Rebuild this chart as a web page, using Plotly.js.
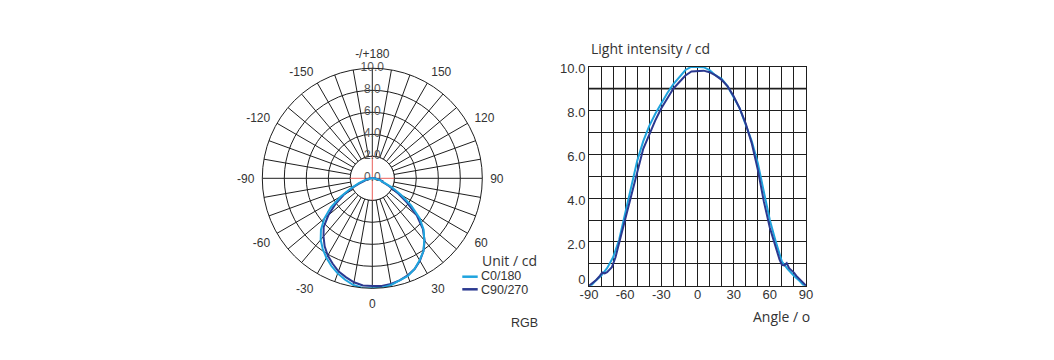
<!DOCTYPE html>
<html>
<head>
<meta charset="utf-8">
<script src="https://cdn.plot.ly/plotly-3.0.1.min.js"></script>
<style>html,body{margin:0;padding:0;background:#fff;}#chart{width:1054px;height:360px;}</style>
</head>
<body>
<div id="chart"></div>
<script>
// ---- Data ----
const angleC0 = [-90,-88,-85,-80,-75,-70,-65,-60,-55,-50,-45,-40,-35,-30,-25,-20,-15,-10,-5,0,5,10,15,20,25,30,35,40,45,50,55,60,65,70,75,80,85,88,90];
const intensityC0 = [0,0.02,0.2,0.45,0.8,1.3,2.1,3.3,4.6,5.7,6.6,7.3,7.85,8.35,8.8,9.2,9.55,9.85,10.0,10.0,9.98,9.85,9.6,9.45,9.1,8.6,8.1,7.35,6.6,5.6,4.3,3.0,2.0,1.1,0.75,0.45,0.2,0.02,0];

const angleC90 = [-90,-88,-84,-81,-79,-77,-75,-71,-68,-65,-60,-55,-50,-45,-40,-35,-30,-25,-20,-15,-10,-5,0,5,10,15,20,25,30,35,40,45,50,55,60,65,68,70,72,74,76,78,80,82,86,88,90];
const intensityC90 = [0,0.08,0.26,0.45,0.6,0.56,0.62,0.85,1.3,1.95,3.0,4.1,5.2,6.25,6.9,7.55,8.1,8.55,9.0,9.3,9.6,9.78,9.8,9.82,9.75,9.6,9.4,9.1,8.65,8.1,7.4,6.5,5.3,3.85,2.65,1.7,1.2,0.95,0.93,1.03,0.8,0.7,0.6,0.45,0.26,0.12,0];

const seriesNames = ['C0/180', 'C90/270'];
const seriesColors = ['#1fa4de', '#2b3990'];

// polar ticks
const polarRadialTicks = [0, 2, 4, 6, 8, 10];
const polarRadialLabels = ['0.0', '2.0', '4.0', '6.0', '8.0', '10.0'];
const polarAngleTicks = [0, 30, 60, 90, 120, 150, 180, 210, 240, 270, 300, 330];
const polarAngleLabels = ['0', '30', '60', '90', '120', '150', '-/+180', '-150', '-120', '-90', '-60', '-30'];

// cartesian ticks
const xTickVals = [-90, -60, -30, 0, 30, 60, 90];
const xTickText = ['-90', '-60', '-30', '0', '30', '60', '90'];
const yTickVals = [0, 2, 4, 6, 8, 10];
const yTickText = ['0', '2.0', '4.0', '6.0', '8.0', '10.0'];

// ---- Layout helpers ----
const W = 1054, H = 360;
const px = x => x / W;
const py = y => 1 - y / H;
const GRID = '#1e1e1e';
const TXT = '#333333';
const ARIAL = 'Liberation Sans, Arial, sans-serif';
const OPEN = 'Open Sans, sans-serif';

// angular grid every 10 degrees, labels only every 30
const angGridVals = [];
const angGridText = [];
for (let a = 0; a < 360; a += 10) {
  angGridVals.push(a);
  const i = polarAngleTicks.indexOf(a);
  angGridText.push(i >= 0 ? polarAngleLabels[i] : '');
}

// label placement for the y axis (the "0" label sits just above the base line)
const yLabelPos = yTickVals.map(v => (v === 0 ? v + 0.27 : v - 0.1));

const innerR = polarRadialTicks[1];
const circTheta = [];
for (let a = 0; a <= 360; a += 5) circTheta.push(a);

const traces = [
  // inner disc (hides the spokes inside the first ring)
  {type: 'scatterpolar', subplot: 'polar', r: circTheta.map(() => innerR), theta: circTheta,
   mode: 'lines', fill: 'toself', fillcolor: '#ffffff', line: {color: GRID, width: 1},
   hoverinfo: 'skip', showlegend: false},
  // red cross inside inner ring
  {type: 'scatterpolar', subplot: 'polar', r: [innerR, 0, innerR], theta: [-90, 0, 90],
   mode: 'lines', line: {color: '#e8605a', width: 1}, hoverinfo: 'skip', showlegend: false},
  {type: 'scatterpolar', subplot: 'polar', r: [innerR, 0, innerR], theta: [0, 0, 180],
   mode: 'lines', line: {color: '#e8605a', width: 1}, hoverinfo: 'skip', showlegend: false},
  // radial labels
  {type: 'scatterpolar', subplot: 'polar', r: polarRadialTicks, theta: polarRadialTicks.map(() => 180),
   mode: 'text', text: polarRadialLabels, textposition: 'middle center',
   textfont: {family: ARIAL, size: 12, color: '#555'}, hoverinfo: 'skip', showlegend: false},
  // polar data
  {type: 'scatterpolar', subplot: 'polar', r: intensityC90, theta: angleC90, mode: 'lines',
   name: seriesNames[1], line: {color: seriesColors[1], width: 2}, showlegend: false},
  {type: 'scatterpolar', subplot: 'polar', r: intensityC0, theta: angleC0, mode: 'lines',
   name: seriesNames[0], line: {color: seriesColors[0], width: 2}, showlegend: false},
  // cartesian data
  {type: 'scatter', x: angleC0, y: intensityC0, mode: 'lines', name: seriesNames[0],
   line: {color: seriesColors[0], width: 2}, showlegend: false},
  {type: 'scatter', x: angleC90, y: intensityC90, mode: 'lines', name: seriesNames[1],
   line: {color: seriesColors[1], width: 2}, showlegend: false}
];

const layout = {
  width: W, height: H, autosize: false,
  margin: {l: 0, r: 0, t: 0, b: 0, pad: 0},
  paper_bgcolor: '#fff', plot_bgcolor: '#fff',
  showlegend: false,
  font: {family: ARIAL, color: TXT, size: 12},
  polar: {
    domain: {x: [px(262.3), px(482.3)], y: [py(288.3), py(68.3)]},
    bgcolor: '#fff',
    angularaxis: {
      rotation: -90, direction: 'counterclockwise',
      tickmode: 'array', tickvals: angGridVals, ticktext: angGridText,
      ticks: 'outside', ticklen: 5, tickcolor: 'rgba(0,0,0,0)',
      showline: true, linecolor: GRID, linewidth: 1,
      showgrid: true, gridcolor: GRID, gridwidth: 1,
      tickfont: {family: ARIAL, size: 12, color: TXT}
    },
    radialaxis: {
      range: [0, 10], tickmode: 'array', tickvals: polarRadialTicks.slice(1),
      showticklabels: false, ticks: '', showline: false,
      showgrid: true, gridcolor: GRID, gridwidth: 1, angle: 90
    }
  },
  xaxis: {
    domain: [px(589), px(806)], range: [-90, 90], anchor: 'y',
    tickmode: 'array', tickvals: xTickVals, ticktext: xTickText,
    showgrid: true, gridcolor: GRID, gridwidth: 1,
    minor: {tickmode: 'linear', tick0: -90, dtick: 10, showgrid: true, gridcolor: GRID, gridwidth: 1, ticks: ''},
    zeroline: false, showline: true, mirror: true, linecolor: GRID, linewidth: 1,
    ticks: '', ticklabelstandoff: -3,
    tickfont: {family: ARIAL, size: 13, color: TXT}, fixedrange: true
  },
  yaxis: {
    domain: [py(285.7), py(66.7)], range: [0, 10], anchor: 'x',
    tickmode: 'array', tickvals: yLabelPos, ticktext: yTickText,
    showgrid: false,
    minor: {tickmode: 'linear', tick0: 0, dtick: 1, showgrid: true, gridcolor: GRID, gridwidth: 1, ticks: ''},
    zeroline: false, showline: true, mirror: true, linecolor: GRID, linewidth: 1,
    ticks: '', tickfont: {family: ARIAL, size: 13, color: TXT}, fixedrange: true
  },
  shapes: [
    {type: 'line', xref: 'x', yref: 'y', x0: -90, x1: 90, y0: 9, y1: 9, line: {color: '#222', width: 1.6}, layer: 'below'},
    {type: 'line', xref: 'paper', yref: 'paper', x0: px(462.3), x1: px(477.7), y0: py(276.7), y1: py(276.7), line: {color: seriesColors[0], width: 2.5}},
    {type: 'line', xref: 'paper', yref: 'paper', x0: px(462.3), x1: px(477.7), y0: py(289.3), y1: py(289.3), line: {color: seriesColors[1], width: 2.5}}
  ],
  annotations: [
    {xref: 'paper', yref: 'paper', x: px(589), y: py(49), xanchor: 'left', yanchor: 'middle', showarrow: false,
     text: 'Light intensity / cd', font: {family: OPEN, size: 14, color: TXT}},
    {xref: 'paper', yref: 'paper', x: px(751), y: py(316), xanchor: 'left', yanchor: 'middle', showarrow: false,
     text: 'Angle / o', font: {family: OPEN, size: 14, color: TXT}},
    {xref: 'paper', yref: 'paper', x: px(480), y: py(260), xanchor: 'left', yanchor: 'middle', showarrow: false,
     text: 'Unit / cd', font: {family: OPEN, size: 14, color: TXT}},
    {xref: 'paper', yref: 'paper', x: px(478.5), y: py(276), xanchor: 'left', yanchor: 'middle', showarrow: false,
     text: seriesNames[0], font: {family: ARIAL, size: 12.5, color: TXT}},
    {xref: 'paper', yref: 'paper', x: px(478.5), y: py(290), xanchor: 'left', yanchor: 'middle', showarrow: false,
     text: seriesNames[1], font: {family: ARIAL, size: 12.5, color: TXT}},
    {xref: 'paper', yref: 'paper', x: px(509), y: py(323), xanchor: 'left', yanchor: 'middle', showarrow: false,
     text: 'RGB', font: {family: ARIAL, size: 12.5, color: TXT}}
  ]
};

Plotly.newPlot('chart', traces, layout, {staticPlot: true, displayModeBar: false});
</script>
</body>
</html>
